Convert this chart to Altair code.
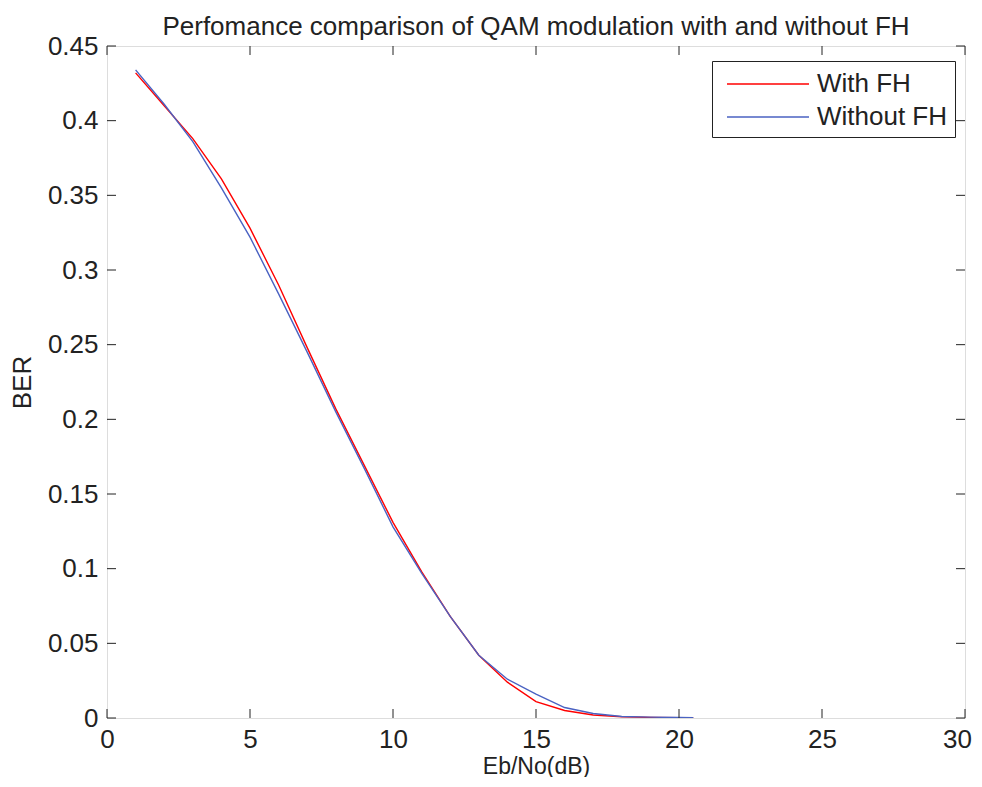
import altair as alt
import pandas as pd

ebno = [1, 2, 3, 4, 5, 6, 7, 8, 9, 10, 11, 12, 13, 14, 15, 16, 17, 18, 19, 20, 20.5]
ber_with_fh = [0.432, 0.410, 0.388, 0.361, 0.328, 0.290, 0.248, 0.207, 0.169, 0.131,
               0.098, 0.068, 0.042, 0.024, 0.011, 0.005, 0.002, 0.0008, 0.0004, 0.0002, 0.0001]
ber_without_fh = [0.434, 0.411, 0.386, 0.355, 0.322, 0.284, 0.245, 0.205, 0.167, 0.128,
                  0.097, 0.068, 0.042, 0.026, 0.016, 0.007, 0.003, 0.001, 0.0006, 0.0003, 0.0002]
series_names = ["With FH", "Without FH"]
series_colors = ["#ff0000", "#4a62c2"]
x_ticks = [0, 5, 10, 15, 20, 25, 30]
y_ticks = [0, 0.05, 0.1, 0.15, 0.2, 0.25, 0.3, 0.35, 0.4, 0.45]

rows = []
for name, vals in zip(series_names, [ber_with_fh, ber_without_fh]):
    for x, y in zip(ebno, vals):
        rows.append({"EbNo": x, "BER": y, "Series": name, "order": series_names.index(name)})
df = pd.DataFrame(rows)

W, H = 858, 672
FONT = "Liberation Sans"
TL = 9

xscale = alt.Scale(domain=[0, 30], nice=False, zero=False)
yscale = alt.Scale(domain=[0, 0.45], nice=False)

xaxis = alt.Axis(title="Eb/No(dB)", values=x_ticks, ticks=False, grid=False,
                 labelFontSize=26, titleFontSize=23, labelPadding=8, labelFlush=False,
                 labelOffset={"condition": {"test": "datum.value === 30", "value": -8}, "value": 0},
                 titlePadding=3, titleFontWeight="normal", domain=False,
                 labelColor="#222", titleColor="#222", labelFont=FONT, titleFont=FONT)
yaxis = alt.Axis(title="BER", values=y_ticks, ticks=False, grid=False, format="~g",
                 labelFontSize=26, titleFontSize=26, labelPadding=9, labelFlush=False,
                 titlePadding=12, titleFontWeight="normal", domain=False,
                 labelColor="#222", titleColor="#222", labelFont=FONT, titleFont=FONT)

lines = alt.Chart(df).mark_line(strokeWidth=1.4, clip=True).encode(
    x=alt.X("EbNo:Q", scale=xscale, axis=xaxis),
    y=alt.Y("BER:Q", scale=yscale, axis=yaxis),
    color=alt.Color("Series:N", scale=alt.Scale(domain=series_names, range=series_colors),
                    legend=alt.Legend(title=None, orient="none", legendX=605, legendY=15,
                                      fillColor="white", strokeColor="#222", padding=7,
                                      symbolType="M-1,0H4.4667", symbolSize=900,
                                      symbolStrokeWidth=1.6,
                                      symbolOffset=7, labelOffset=59, labelFontSize=26,
                                      labelFont=FONT, labelColor="#222", rowPadding=4,
                                      labelLimit=400)),
    order=alt.Order("order:Q"),
    detail="Series:N",
)

xt = pd.DataFrame({"EbNo": x_ticks})
yt = pd.DataFrame({"BER": y_ticks})

xb = alt.Chart(xt).mark_rule(color="#222", strokeWidth=1).encode(
    x=alt.X("EbNo:Q", scale=xscale, axis=xaxis), y=alt.value(H), y2=alt.value(H - TL))
xtop = alt.Chart(xt).mark_rule(color="#222", strokeWidth=1).encode(
    x=alt.X("EbNo:Q", scale=xscale, axis=xaxis), y=alt.value(0), y2=alt.value(TL))
yl = alt.Chart(yt).mark_rule(color="#222", strokeWidth=1).encode(
    y=alt.Y("BER:Q", scale=yscale, axis=yaxis), x=alt.value(0), x2=alt.value(TL))
yr = alt.Chart(yt).mark_rule(color="#222", strokeWidth=1).encode(
    y=alt.Y("BER:Q", scale=yscale, axis=yaxis), x=alt.value(W), x2=alt.value(W - TL))

chart = alt.layer(lines, xb, xtop, yl, yr).properties(
    width=W, height=H,
    title=alt.TitleParams("Perfomance comparison of QAM modulation with and without FH",
                          fontSize=26, font=FONT, fontWeight="normal", color="#222",
                          anchor="middle", frame="group", baseline="alphabetic", offset=-28),
    autosize=alt.AutoSizeParams(type="none"),
    padding={"left": 99, "top": 38, "right": 8, "bottom": 59},
).configure_view(stroke="#222", strokeWidth=1.2).configure(background="white")

chart.save("out.html", embed_options={"renderer": "svg", "actions": False})
